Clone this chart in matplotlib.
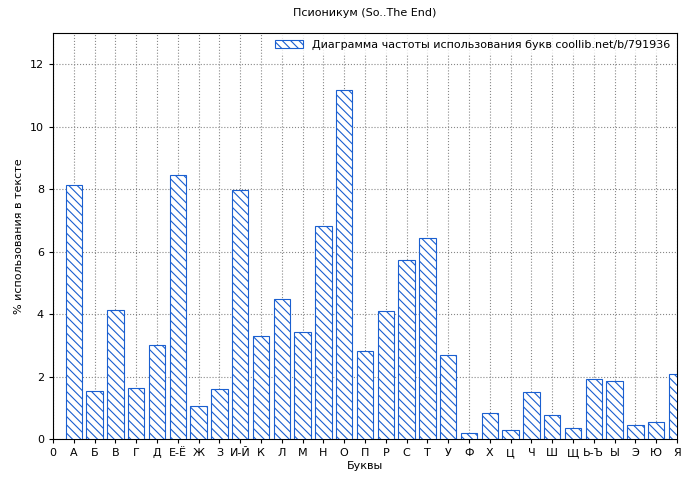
import matplotlib
matplotlib.use("Agg")
import matplotlib.pyplot as plt

letters = ["А","Б","В","Г","Д","Е-Ё","Ж","З","И-Й","К","Л","М","Н","О","П","Р","С","Т","У","Ф","Х","Ц","Ч","Ш","Щ","Ь-Ъ","Ы","Э","Ю","Я"]
values = [8.13,1.54,4.13,1.63,3.01,8.45,1.06,1.6,7.97,3.3,4.48,3.42,6.82,11.17,2.82,4.1,5.73,6.43,2.69,0.19,0.83,0.29,1.5,0.77,0.35,1.92,1.86,0.45,0.54,2.08]
tick_labels = ["0"] + letters

plt.rcParams['font.family'] = ['DejaVu Sans']
plt.rcParams['hatch.color'] = '#1a5fd0'
plt.rcParams['hatch.linewidth'] = 0.8
fig = plt.figure(figsize=(7, 4.8), dpi=100)
ax = fig.add_axes([53/700, 1-439/480, 624/700, 406/480])
x = list(range(1, len(letters)+1))
ax.bar(x, values, width=0.78, facecolor='white', edgecolor='#1a5fd0', hatch='\\\\\\\\', linewidth=0.8,
       label='Диаграмма частоты использования букв coollib.net/b/791936', zorder=3)
ax.set_xlim(0, 30)
ax.set_ylim(0, 13)
ax.set_xticks(range(0, 31))
ax.set_xticklabels(tick_labels, fontsize=8)
ax.set_yticks(range(0, 13, 2))
ax.tick_params(labelsize=8, length=3)
ax.grid(True, linestyle=':', color='#888888', linewidth=0.8, zorder=0)
ax.set_xlabel('Буквы', fontsize=8, labelpad=2)
ax.set_ylabel('% использования в тексте', fontsize=8)
ax.set_title('Псионикум (So..The End)', fontsize=8, pad=12)
leg = ax.legend(loc='upper right', fontsize=8, frameon=True, fancybox=False, edgecolor='white',
                handlelength=2.5, borderaxespad=0.2)
fig.savefig('out.png', dpi=100)
